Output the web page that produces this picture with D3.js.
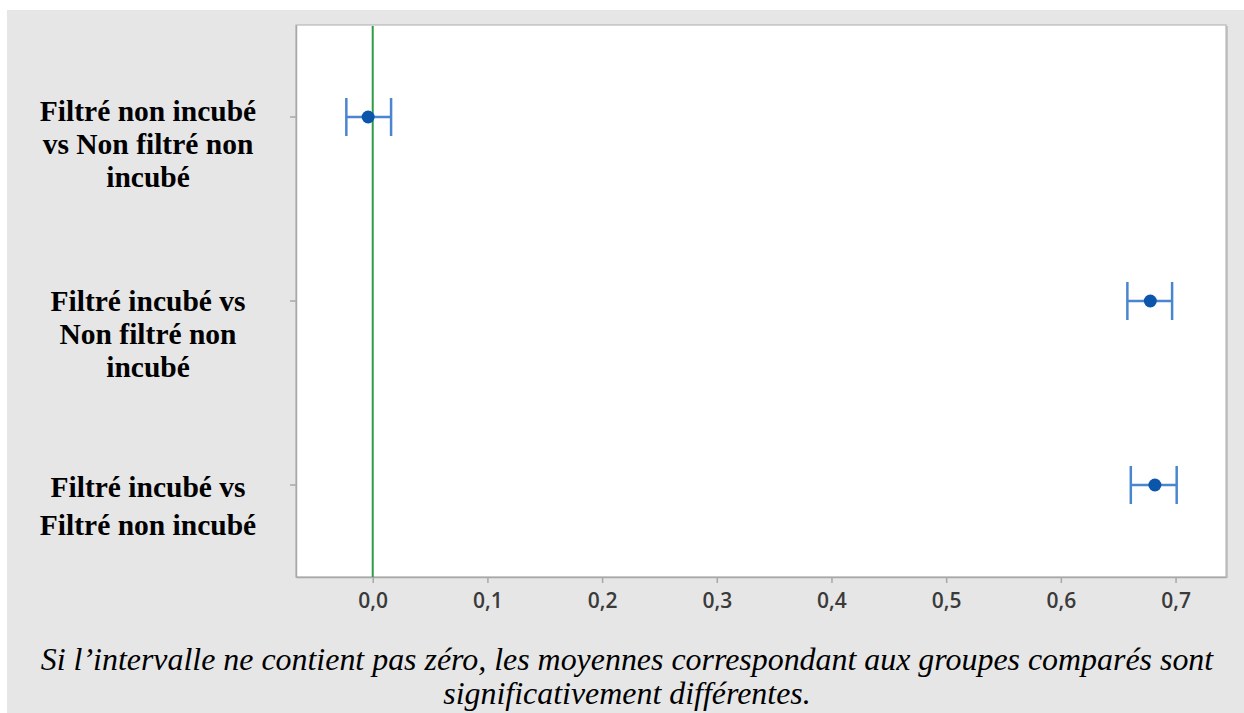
<!DOCTYPE html>
<html><head><meta charset="utf-8">
<script src="https://cdn.jsdelivr.net/npm/d3@7"></script>
<style>
html,body{margin:0;padding:0;background:#fff;}
svg{display:block;}
</style></head>
<body>
<svg id="chart" width="1244" height="713"></svg>
<script>
// ---- data ----
const categories = [
  "Filtré non incubé vs Non filtré non incubé",
  "Filtré incubé vs Non filtré non incubé",
  "Filtré incubé vs Filtré non incubé"
];
const labelLines = [
  ["Filtré non incubé", "vs Non filtré non", "incubé"],
  ["Filtré incubé vs", "Non filtré non", "incubé"],
  ["Filtré incubé vs", "Filtré non incubé"]
];
const estimates = [-0.004, 0.678, 0.682];
const lowerCI   = [-0.023, 0.658, 0.661];
const upperCI   = [0.016, 0.697, 0.701];
const xTicks = [0.0, 0.1, 0.2, 0.3, 0.4, 0.5, 0.6, 0.7];
const xTickLabels = ["0,0","0,1","0,2","0,3","0,4","0,5","0,6","0,7"];
const refValue = 0;
const caption = [
  "Si l\u2019intervalle ne contient pas zéro, les moyennes correspondant aux groupes comparés sont",
  "significativement différentes."
];

// ---- layout ----
const svg = d3.select("#chart");
const L = 296, R = 1226, T = 25, B = 577;
const SERIF = '"Liberation Serif", "Times New Roman", serif';

svg.append("rect").attr("x",7).attr("y",10).attr("width",1237).attr("height",703).attr("fill","#e6e6e6");

const x = d3.scaleLinear().domain([-0.0669, 0.744]).range([L, R]);
const y = d3.scaleBand().domain(categories).range([T, B]).padding(0);

// plot frame
svg.append("rect").attr("x",R-1).attr("y",T+1).attr("width",3).attr("height",B-T).attr("fill","#c4c4c4");
svg.append("rect").attr("x",L).attr("y",T).attr("width",R-L).attr("height",B-T)
  .attr("fill","#fff").attr("stroke","#b8b8b8").attr("stroke-width",1.2);

// x axis
const xAxis = d3.axisBottom(x).tickValues(xTicks).tickFormat((d,i)=>xTickLabels[i]).tickSize(6).tickSizeOuter(0);
const gx = svg.append("g").attr("transform",`translate(0,${B})`).call(xAxis);
gx.select(".domain").attr("stroke","#a8a8a8").attr("stroke-width",1.5);
gx.selectAll(".tick line").attr("stroke","#a8a8a8").attr("stroke-width",1.5);
gx.selectAll(".tick text")
  .style("font-family",'"Open Sans", sans-serif').style("font-size","21px").style("font-weight","600")
  .attr("fill","#3a3a3a").attr("y",31).attr("dy",0);

// y axis
const yAxis = d3.axisLeft(y).tickFormat("").tickSize(6).tickSizeOuter(0);
const gy = svg.append("g").attr("transform",`translate(${L},0)`).call(yAxis);
gy.select(".domain").attr("stroke","#a8a8a8").attr("stroke-width",1.5);
gy.selectAll(".tick line").attr("stroke","#a8a8a8").attr("stroke-width",1.5);

// y labels (multi-line)
const firstOffset = [4, 10, 12];
const lineH = [33, 33, 38];
const lab = svg.append("g");
categories.forEach((c,i)=>{
  const t = lab.append("text").attr("text-anchor","middle")
    .style("font-family",SERIF).style("font-weight","bold").style("font-size","29.5px").attr("fill","#000");
  labelLines[i].forEach((ln,j)=>{
    t.append("tspan").attr("x",148).attr("y", y(c)+y.bandwidth()/2 + firstOffset[i] + j*lineH[i]).text(ln);
  });
});

// reference line
svg.append("line").attr("x1",x(refValue)).attr("x2",x(refValue)).attr("y1",T+1).attr("y2",B)
  .attr("stroke","#2f9a44").attr("stroke-width",2);

// intervals
const rows = categories.map((c,i)=>({c, est:estimates[i], lo:lowerCI[i], hi:upperCI[i]}));
const g = svg.append("g");
const cy = d => y(d.c)+y.bandwidth()/2;
const capH = 19;
g.selectAll(".whisk").data(rows).join("line")
  .attr("x1",d=>x(d.lo)).attr("x2",d=>x(d.hi)).attr("y1",cy).attr("y2",cy)
  .attr("stroke","#4a86cf").attr("stroke-width",2.5);
g.selectAll(".capL").data(rows).join("line")
  .attr("x1",d=>x(d.lo)).attr("x2",d=>x(d.lo)).attr("y1",d=>cy(d)-capH).attr("y2",d=>cy(d)+capH)
  .attr("stroke","#4a86cf").attr("stroke-width",2.5);
g.selectAll(".capR").data(rows).join("line")
  .attr("x1",d=>x(d.hi)).attr("x2",d=>x(d.hi)).attr("y1",d=>cy(d)-capH).attr("y2",d=>cy(d)+capH)
  .attr("stroke","#4a86cf").attr("stroke-width",2.5);
g.selectAll("circle").data(rows).join("circle")
  .attr("cx",d=>x(d.est)).attr("cy",cy).attr("r",6.5).attr("fill","#0b56aa");

// caption
const cap = svg.append("g");
const c1 = cap.append("text").attr("x",627).attr("y",670).attr("text-anchor","middle")
  .style("font-family",SERIF).style("font-style","italic").style("font-size","28px").attr("fill","#000").text(caption[0]);
const w = c1.node().getComputedTextLength();
const fs = 28*1173/w;
c1.style("font-size",fs+"px");
cap.append("text").attr("x",627).attr("y",704).attr("text-anchor","middle")
  .style("font-family",SERIF).style("font-style","italic").style("font-size",fs+"px").attr("fill","#000").text(caption[1]);
</script>
</body></html>
